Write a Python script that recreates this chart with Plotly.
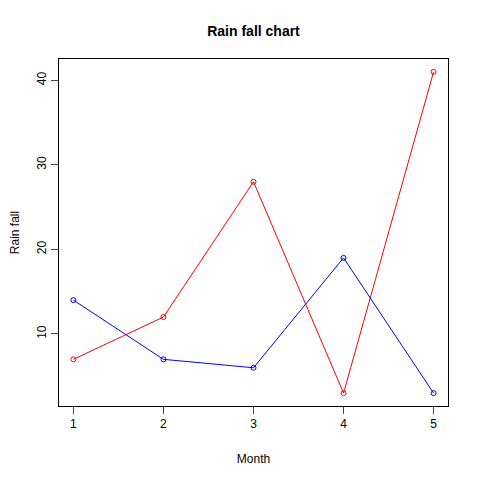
import plotly.graph_objects as go

months = [1, 2, 3, 4, 5]
rain_red = [7, 12, 28, 3, 41]
rain_blue = [14, 7, 6, 19, 3]
x_ticks = [1, 2, 3, 4, 5]
y_ticks = [10, 20, 30, 40]

fig = go.Figure()
fig.add_trace(go.Scatter(x=months, y=rain_red, mode="lines+markers",
                         line=dict(color="red", width=1),
                         marker=dict(symbol="circle-open", size=5, color="red", line=dict(width=1))))
fig.add_trace(go.Scatter(x=months, y=rain_blue, mode="lines+markers",
                         line=dict(color="blue", width=1),
                         marker=dict(symbol="circle-open", size=5, color="blue", line=dict(width=1))))

font = "Liberation Sans, Arial, sans-serif"
fig.update_layout(
    width=480, height=480,
    margin=dict(l=51, r=40, t=51, b=82),
    paper_bgcolor="white", plot_bgcolor="white",
    showlegend=False,
    font=dict(family=font, size=12, color="black"),
    title=dict(text="<b>Rain fall chart</b>", x=(51 + 440) / 2 / 480, xanchor="center",
               y=1 - 23/480, yanchor="middle",
               font=dict(size=14, family=font)),
)
fig.update_xaxes(range=[0.84, 5.16], tickvals=x_ticks, ticks="outside", ticklen=7,
                 showline=True, linecolor="black", linewidth=1, mirror=True,
                 showgrid=False, zeroline=False,
                 title=dict(text="Month", standoff=24, font=dict(size=12)))
fig.update_yaxes(range=[1.48, 42.52], tickvals=y_ticks, ticks="outside", ticklen=7,
                 showline=True, linecolor="black", linewidth=1, mirror=True,
                 showgrid=False, zeroline=False, tickangle=-90, automargin=False,
                 title=dict(text="Rain fall", standoff=18, font=dict(size=12)))

fig.write_html("out.html")
